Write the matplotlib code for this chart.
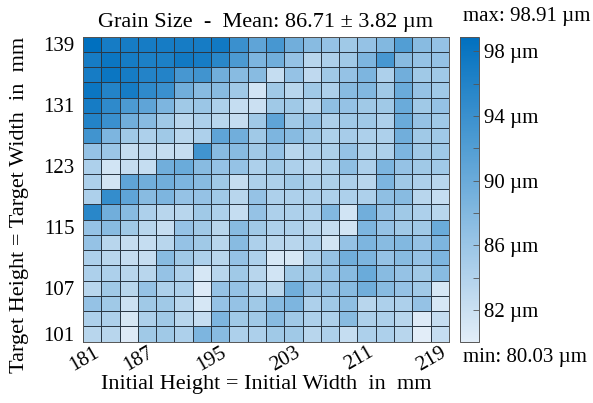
import numpy as np
import matplotlib
matplotlib.use('Agg')
import matplotlib.pyplot as plt
import matplotlib.transforms as mtransforms
from matplotlib.colors import LinearSegmentedColormap

plt.rcParams['font.family'] = ['Liberation Serif', 'DejaVu Serif']

# grid axes (mm)
init_size = np.arange(181, 220, 2)     # columns
target_size = np.arange(101, 140, 2)   # rows
xtick_vals = [181, 187, 195, 203, 211, 219]
ytick_vals = [101, 107, 115, 123, 131, 139]

# grain size [um], rows listed from top (139) down to bottom (101)
grain_rows_top_down = [
    [98.91, 97, 97, 97, 97, 97, 97, 97.5, 94, 91, 93, 89.5, 87.5, 86.5, 85.5, 86.5, 88, 92, 87.5, 86.5],
    [97, 98, 97, 96.5, 96.5, 97.5, 97, 95.5, 92.5, 88.5, 89.5, 86.5, 83.5, 84.5, 85.5, 88.5, 93, 87.5, 86.5, 86.5],
    [97, 98, 97, 96, 96, 93, 93.5, 89.5, 87.5, 87.5, 82.5, 86.5, 83, 85.5, 86.5, 88.5, 84.5, 89.5, 85.5, 85.5],
    [98, 96, 97, 95, 94, 89.5, 87.5, 87.5, 85.5, 81.5, 85.5, 83.5, 85.5, 84.5, 87.5, 88, 85.5, 90, 86.5, 85.5],
    [97, 95, 92.5, 91, 88.5, 85.5, 86, 84.5, 82.5, 82, 85.5, 85.5, 83.5, 87, 86.5, 85.5, 85.5, 90, 85.5, 86.5],
    [96, 94, 89.5, 87.5, 85.5, 83.5, 84.5, 83.5, 82.5, 85.5, 91, 85.5, 86.5, 84.5, 85.5, 85.5, 84.5, 90, 86.5, 85.5],
    [93.5, 88.5, 85.5, 84.5, 85.5, 83.5, 84.5, 91, 89.5, 85.5, 88.5, 87.5, 85.5, 84.5, 85, 84.5, 84.5, 89.5, 85.5, 85.5],
    [86.5, 86, 82.5, 83, 82.5, 82.5, 93.5, 87.5, 87.5, 85.5, 86.5, 83.5, 84.5, 84.5, 86.5, 84.5, 84.5, 88.5, 85.5, 85.5],
    [84.5, 81.5, 82.5, 82.5, 89.5, 90, 87.5, 86.5, 86.5, 84.5, 85.5, 84.5, 83.5, 84.5, 87, 84.5, 88.5, 86.5, 85.5, 85.5],
    [84.5, 81.5, 91, 89.5, 89.5, 88.5, 87.5, 85.5, 82.5, 84.5, 84.5, 85.5, 84.5, 84.5, 84.5, 83.5, 88.5, 85.5, 84.5, 83.5],
    [84.5, 94.5, 91, 87.5, 88.5, 86.5, 86.5, 85.5, 83.5, 86.5, 84.5, 84.5, 84.5, 84.5, 84.5, 84.5, 87, 87.5, 83.5, 82.5],
    [95.5, 89.5, 87.5, 84.5, 83.5, 83.5, 85.5, 84.5, 82.5, 86.5, 84.5, 84.5, 84.5, 88, 81.5, 89.5, 86.5, 85.5, 84.5, 83.5],
    [86.5, 87.5, 85.5, 83.5, 82.5, 86.5, 85.5, 83.5, 87.5, 85.5, 84.5, 84.5, 83.5, 82.5, 81.5, 88.5, 86.5, 85.5, 85.5, 90],
    [86.5, 83.5, 82.5, 82.5, 83.5, 86.5, 85.5, 83.5, 87.5, 84.5, 83.5, 83.5, 84.5, 81.5, 86.5, 88.5, 87.5, 88, 86.5, 88.5],
    [84.5, 83.5, 82.5, 82.5, 87.5, 85.5, 84.5, 83.5, 86.5, 84.5, 81, 81, 84.5, 86.5, 89.5, 88.5, 86.5, 87.5, 86.5, 88.5],
    [84.5, 84.5, 83.5, 83.5, 86.5, 84.5, 81, 83.5, 85.5, 83.5, 81.5, 85.5, 85.5, 86.5, 87.5, 90, 87.5, 86.5, 85.5, 87.5],
    [83.5, 85.5, 83.5, 86.5, 84.5, 84.5, 80.5, 86.5, 86.5, 84.5, 83.5, 89.5, 86.5, 86.5, 87.5, 89.5, 87.5, 86.5, 85.5, 81],
    [86.5, 85.5, 82, 85.5, 85.5, 83.5, 81, 86.5, 86.5, 85.5, 87.5, 88.5, 84.5, 85.5, 87, 83.5, 84.5, 84.5, 86.5, 81],
    [84.5, 84.5, 81, 84.5, 85.5, 83.5, 82.5, 88.5, 85.5, 85.5, 87.5, 85.5, 84.5, 84.5, 87.5, 84.5, 84.5, 83.5, 80.5, 82.5],
    [83.5, 83.5, 80.5, 85.5, 85.5, 84.5, 88.5, 87.5, 84.5, 84.5, 85.5, 85.5, 83.5, 84.5, 82.5, 84.5, 84.5, 83.5, 80.03, 82.5],
]
grain = np.array(grain_rows_top_down)[::-1]  # bottom row = 101

mean_txt = 86.71
std_txt = 3.82
vmin, vmax = 80.03, 98.91

cmap = LinearSegmentedColormap.from_list('grain', ['#e2edf8', '#0070bf'])

fig = plt.figure(figsize=(5.93, 4.03), dpi=100)
fig.set_facecolor('w')
ax = fig.add_axes([0.140, 0.152, 0.617, 0.757])
cax = fig.add_axes([0.776, 0.152, 0.031, 0.757])

x_edges = np.append(init_size - 1, init_size[-1] + 1)
y_edges = np.append(target_size - 1, target_size[-1] + 1)
mesh = ax.pcolormesh(x_edges, y_edges, grain, cmap=cmap, vmin=vmin, vmax=vmax,
                     edgecolors='#2b3845', linewidth=0.7)

ax.set_xticks(xtick_vals)
ax.set_yticks(ytick_vals)
ax.set_xticklabels([str(v) for v in xtick_vals], rotation=30, ha='right')
ax.tick_params(length=0, labelsize=15, pad=6)
ax.tick_params(axis='x', pad=1)
# nudge rotated labels right so they sit under their ticks
shift = mtransforms.ScaledTranslation(0.10, 0, fig.dpi_scale_trans)
for lab in ax.get_xticklabels():
    lab.set_transform(lab.get_transform() + shift)
ax.set_xlabel('Initial Height = Initial Width  in  mm', fontsize=16, labelpad=0)
ax.set_ylabel('Target Height = Target Width  in  mm', fontsize=16)
ax.yaxis.set_label_coords(-0.148, 0.45)
ax.set_title('Grain Size  -  Mean: %.2f \u00b1 %.2f \u00b5m' % (mean_txt, std_txt),
             fontsize=16, pad=7)
for s in ax.spines.values():
    s.set_color('#555555')
    s.set_linewidth(0.7)

cb = fig.colorbar(mesh, cax=cax)
cb.set_ticks(np.arange(82, 99, 2))
cb.set_ticklabels(['%d \u00b5m' % v if v % 4 == 2 else '' for v in np.arange(82, 99, 2)])
cax.tick_params(direction='in', length=4, width=0.6, labelsize=15, color='#555555', pad=4)
cb.outline.set_linewidth(0.7)
cb.outline.set_edgecolor('#555555')

fig.text(0.781, 0.958, 'max: %.2f \u00b5m' % vmax, fontsize=15, va='center')
fig.text(0.781, 0.113, 'min: %.2f \u00b5m' % vmin, fontsize=15, va='center')

fig.savefig('out.png', dpi=100)
